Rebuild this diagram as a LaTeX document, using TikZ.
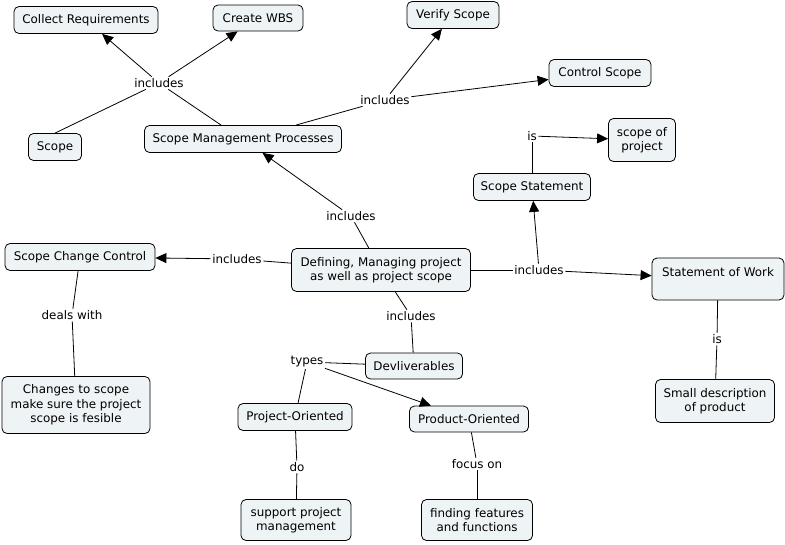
\documentclass[tikz,border=0pt]{standalone}
\usepackage{fontspec}
\setmainfont{DejaVu Sans}
\usetikzlibrary{arrows.meta}
\definecolor{boxfill}{RGB}{238,243,245}
\tikzset{
  cbox/.style={draw=black, fill=boxfill, rounded corners=5pt, line width=0.8pt, align=center, inner sep=0pt, font=\fontsize{11.9}{14.5}\selectfont},
  lbl/.style={inner sep=1.5pt, font=\fontsize{11.9}{14.5}\selectfont},
  ln/.style={line width=0.8pt},
  arr/.style={line width=0.8pt, -{Triangle[length=11pt,width=10pt]}}
}
\begin{document}
\begin{tikzpicture}[x=1pt,y=-1pt]
\useasboundingbox (0,0) rectangle (785,544);
% concepts
\node[cbox, minimum width=144pt, minimum height=27pt] (cr) at (86,20) {Collect Requirements};
\node[cbox, minimum width=90pt, minimum height=26pt] (wbs) at (258,18) {Create WBS};
\node[cbox, minimum width=92pt, minimum height=27pt] (vs) at (453,15) {Verify Scope};
\node[cbox, minimum width=102pt, minimum height=27pt] (cs) at (600,73) {Control Scope};
\node[cbox, minimum width=53pt, minimum height=27pt] (sc) at (55,147) {Scope};
\node[cbox, minimum width=197pt, minimum height=27pt] (smp) at (243,139) {Scope Management Processes};
\node[cbox, minimum width=67pt, minimum height=43pt] (sop) at (642,140) {scope of\\project};
\node[cbox, minimum width=117pt, minimum height=27pt] (ss) at (532,187) {Scope Statement};
\node[cbox, minimum width=150pt, minimum height=27pt] (scc) at (80,257) {Scope Change Control};
\node[cbox, minimum width=179pt, minimum height=43pt] (def) at (381,270) {Defining, Managing project\\as well as project scope};
\node[cbox, minimum width=132pt, minimum height=42pt] (sow) at (718,279) {Statement of Work\\\mbox{}};
\node[cbox, minimum width=97pt, minimum height=26pt] (dev) at (414,366) {Devliverables};
\node[cbox, minimum width=148pt, minimum height=57pt] (chg) at (76,405) {Changes to scope\\make sure the project\\scope is fesible};
\node[cbox, minimum width=119pt, minimum height=43pt] (sdp) at (715,401) {Small description\\of product};
\node[cbox, minimum width=114pt, minimum height=27pt] (pjo) at (295,417) {Project-Oriented};
\node[cbox, minimum width=119pt, minimum height=26pt] (pdo) at (469,419) {Product-Oriented};
\node[cbox, minimum width=110pt, minimum height=41pt] (spm) at (296,520) {support project\\management};
\node[cbox, minimum width=111pt, minimum height=41pt] (fff) at (477,520) {finding features\\and functions};
% link labels
\node[lbl] (l1) at (159,83) {includes};
\node[lbl] (l2) at (385,100) {includes};
\node[lbl] (l3) at (351,216) {includes};
\node[lbl] (l4) at (237,259) {includes};
\node[lbl] (l5) at (411,316) {includes};
\node[lbl] (l6) at (539,270) {includes};
\node[lbl] (l7) at (532,136) {is};
\node[lbl] (l8) at (717,339) {is};
\node[lbl] (l9) at (72,315) {deals with};
\node[lbl] (l10) at (307,362) {types};
\node[lbl] (l11) at (297,467) {do};
\node[lbl] (l12) at (477,464) {focus on};
% connectors
\draw[ln] (sc.north) -- (l1);
\draw[ln] (smp.north west) ++(77pt,0) coordinate (smpA) (smpA) -- (l1);
\draw[arr] (l1) -- (cr);
\draw[arr] (l1) -- (wbs);
\draw[ln] (smp.north east) ++(-46pt,0) coordinate (smpB) (smpB) -- (l2);
\draw[arr] (l2) -- (vs);
\draw[arr] (l2) -- (cs);
\draw[ln] (def) -- (l3);
\draw[arr] (l3) -- (smp);
\draw[ln] (def) -- (l4);
\draw[arr] (l4) -- (scc);
\draw[ln] (def) -- (l5);
\draw[ln] (l5) -- (dev);
\draw[ln] (dev) -- (l10);
\draw[ln] (l10) -- (pjo);
\draw[arr] (l10) -- (pdo);
\draw[ln] (def) -- (l6);
\draw[arr] (l6) -- (ss);
\draw[arr] (l6) -- (sow);
\draw[ln] (ss) -- (l7);
\draw[arr] (l7) -- (sop);
\draw[ln] (scc) -- (l9);
\draw[ln] (l9) -- (chg);
\draw[ln] (sow) -- (l8);
\draw[ln] (l8) -- (sdp);
\draw[ln] (pjo) -- (l11);
\draw[ln] (l11) -- (spm);
\draw[ln] (pdo) -- (l12);
\draw[ln] (l12) -- (fff);
\end{tikzpicture}
\end{document}
